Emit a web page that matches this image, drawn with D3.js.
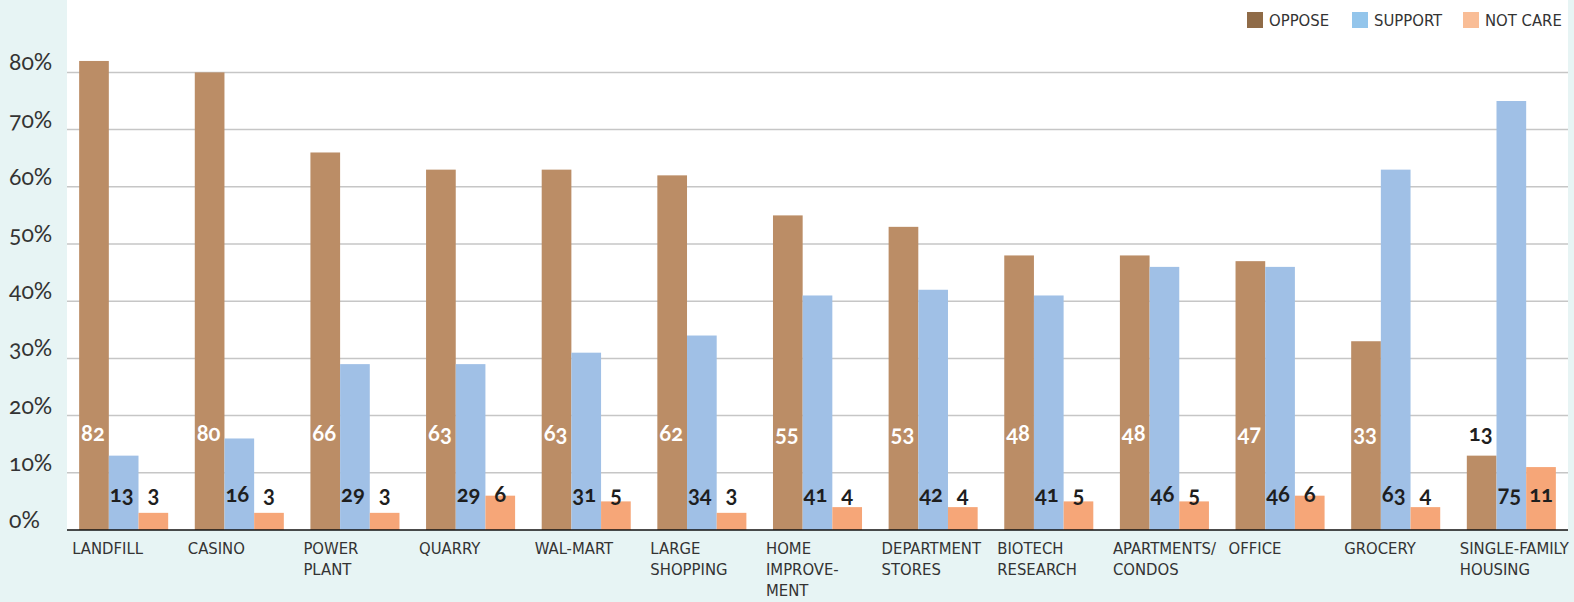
<!DOCTYPE html>
<html>
<head>
<meta charset="utf-8">
<script src="https://cdn.jsdelivr.net/npm/d3@7"></script>
<style>
  html, body { margin: 0; padding: 0; background: #e7f4f4; }
  svg { display: block; }
  .num { font-family: Lato, "Open Sans", sans-serif; font-variant-numeric: oldstyle-nums; font-feature-settings: "onum" 1; }
  .cond { font-family: "Liberation Sans Narrow", "DejaVu Sans Condensed", "Roboto Condensed", sans-serif; }
</style>
</head>
<body>
<svg id="chart" width="1574" height="602"></svg>
<script>
// Facility types surveyed
const categories = [
  ["LANDFILL"], ["CASINO"], ["POWER", "PLANT"], ["QUARRY"], ["WAL-MART"],
  ["LARGE", "SHOPPING"], ["HOME", "IMPROVE-", "MENT"], ["DEPARTMENT", "STORES"],
  ["BIOTECH", "RESEARCH"], ["APARTMENTS/", "CONDOS"], ["OFFICE"], ["GROCERY"],
  ["SINGLE-FAMILY", "HOUSING"]
];
// Percent of respondents per answer
const oppose  = [82, 80, 66, 63, 63, 62, 55, 53, 48, 48, 47, 33, 13];
const support = [13, 16, 29, 29, 31, 34, 41, 42, 41, 46, 46, 63, 75];
const notCare = [3, 3, 3, 6, 5, 3, 4, 4, 5, 5, 6, 4, 11];
const seriesNames = ["OPPOSE", "SUPPORT", "NOT CARE"];
const yTicks = [0, 10, 20, 30, 40, 50, 60, 70, 80];

const series = [oppose, support, notCare];
const fills = ["#bb8d66", "#a0c0e6", "#f6a678"];
const legendFills = ["#8f6b47", "#93c5eb", "#f9bd96"];

const svg = d3.select("#chart");
const plot = { left: 67, right: 1568, top: 0, bottom: 530 };

// Plot panel
svg.append("rect")
  .attr("x", plot.left).attr("y", 0)
  .attr("width", plot.right - plot.left).attr("height", plot.bottom)
  .attr("fill", "#ffffff");

const x = d3.scaleBand()
  .domain(d3.range(categories.length))
  .range([plot.left, plot.right])
  .paddingInner(0.23)
  .paddingOuter(0.105);

const xs = d3.scaleBand()
  .domain(d3.range(series.length))
  .range([0, x.bandwidth()]);

const y = d3.scaleLinear().domain([0, 80]).range([plot.bottom, 72.4]);

// Gridlines
svg.append("g")
  .selectAll("line")
  .data(yTicks.filter(d => d > 0))
  .join("line")
  .attr("x1", plot.left).attr("x2", plot.right)
  .attr("y1", d => y(d)).attr("y2", d => y(d))
  .attr("stroke", "#c6c6c6").attr("stroke-width", 1.5);

// Y labels
svg.append("g")
  .selectAll("text")
  .data(yTicks)
  .join("text")
  .attr("class", "num")
  .attr("x", 9).attr("y", d => y(d) - 2)
  .attr("font-size", 23).attr("fill", "#333")
  .text(d => d + "%");

// Bars
const groups = svg.append("g")
  .selectAll("g")
  .data(categories.map((c, i) => i))
  .join("g")
  .attr("transform", i => `translate(${x(i)},0)`);

groups.selectAll("rect")
  .data(i => series.map((s, k) => ({ k, v: s[i] })))
  .join("rect")
  .attr("x", d => xs(d.k))
  .attr("width", xs.bandwidth())
  .attr("y", d => y(d.v))
  .attr("height", d => y(0) - y(d.v))
  .attr("fill", d => fills[d.k]);

// Value labels: fixed rows, white when sitting on the bar
const labelRow = [433, 494, 494];
groups.selectAll("text.val")
  .data(i => series.map((s, k) => ({ k, v: s[i] })))
  .join("text")
  .attr("class", "val num")
  .attr("x", d => xs(d.k) + xs.bandwidth() / 2 - (d.k === 0 ? 1 : d.k === 1 ? 2 : 0))
  .attr("y", d => labelRow[d.k])
  .attr("dy", "0.35em")
  .attr("text-anchor", "middle")
  .attr("font-size", 22).attr("font-weight", 700)
  .attr("fill", d => (d.k === 0 && y(d.v) < labelRow[0] - 12) ? "#ffffff" : "#1e1e1e")
  .text(d => d.v);

// Baseline
svg.append("line")
  .attr("x1", plot.left).attr("x2", plot.right)
  .attr("y1", y(0)).attr("y2", y(0))
  .attr("stroke", "#111").attr("stroke-width", 1.5);

// Category labels
groups.append("text")
  .attr("class", "cond")
  .attr("x", -7).attr("y", 554)
  .attr("font-size", 16.5).attr("fill", "#333")
  .selectAll("tspan")
  .data(i => categories[i])
  .join("tspan")
  .attr("x", -7)
  .attr("dy", (d, j) => j === 0 ? 0 : 21)
  .text(d => d);

// Legend
const legendX = [1247, 1352, 1463];
const legend = svg.append("g")
  .selectAll("g")
  .data(seriesNames)
  .join("g")
  .attr("transform", (d, k) => `translate(${legendX[k]},12)`);
legend.append("rect")
  .attr("width", 16).attr("height", 16)
  .attr("fill", (d, k) => legendFills[k]);
legend.append("text")
  .attr("class", "cond")
  .attr("x", 22).attr("y", 8).attr("dy", "0.36em")
  .attr("font-size", 16.5).attr("fill", "#333")
  .text(d => d);
</script>
</body>
</html>
